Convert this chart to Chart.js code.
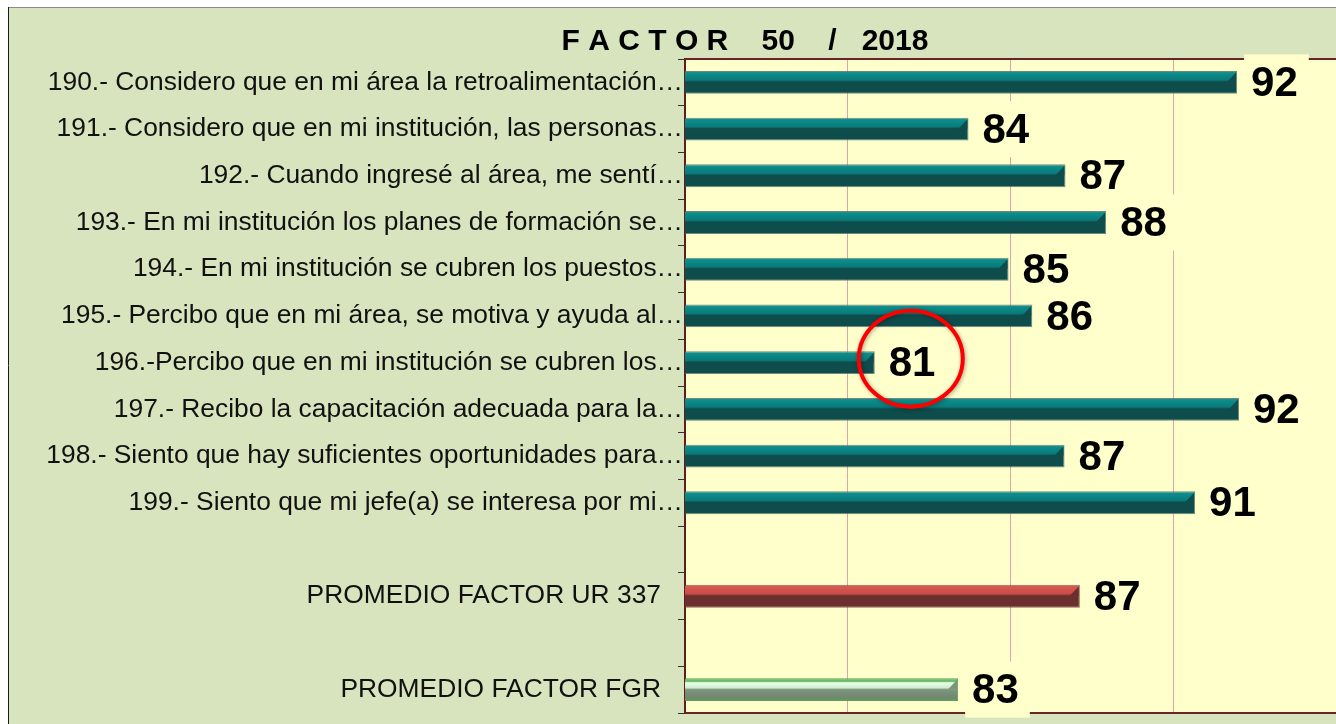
<!DOCTYPE html>
<html>
<head>
<meta charset="utf-8">
<script src="https://cdn.jsdelivr.net/npm/chart.js@4"></script>
<style>
  html, body { margin: 0; padding: 0; background: #fff; overflow: hidden; }
  #wrap { position: relative; width: 1336px; height: 724px; }
</style>
</head>
<body>
<div id="wrap"><canvas id="chart"></canvas></div>
<script>
// chart values
const chartTitle = "F A C T O R    50    /   2018"
const categories = [
  "190.- Considero que en mi área la retroalimentación…",
  "191.- Considero que en mi institución, las personas…",
  "192.- Cuando ingresé al área, me sentí…",
  "193.- En mi institución los planes de formación se…",
  "194.- En mi institución se cubren los puestos…",
  "195.- Percibo que en mi área, se motiva y ayuda al…",
  "196.-Percibo que en mi institución se cubren los…",
  "197.- Recibo la capacitación adecuada para la…",
  "198.- Siento que hay suficientes oportunidades para…",
  "199.- Siento que mi jefe(a) se interesa por mi…",
  "",
  "PROMEDIO FACTOR UR 337   ",
  "",
  "PROMEDIO FACTOR FGR   "
]
const scores = [91.96, 83.71, 86.69, 87.94, 84.94, 85.67, 80.83, 92.02, 86.66, 90.67, null, 87.13, null, 83.39]
// which bar style each row gets
const barKinds = ["q", "q", "q", "q", "q", "q", "q", "q", "q", "q", null, "ur", null, "fgr"]
const highlightIndex = 6   // the circled one
const axisMin = 75
const axisMax = 95

// colour sets for the 3d looking bars
const palette = {
  q:   { edge: "#4f8583", light: "#0b8e8c", mid: "#097a79", dark: "#0f4c4c", border: "rgba(70,110,110,0.8)" },
  ur:  { edge: "#b86060", light: "#d9574f", mid: "#c64c47", dark: "#6b2f2f", border: "rgba(120,60,60,0.8)" },
  fgr: { edge: "#5fb55f", light: "#eaffea", mid: "#bcd8bc", dark: "#70886f", border: "rgba(80,150,80,0.9)" }
}

const barPct = 0.49

function barGradient(c) {
  const kind = barKinds[c.dataIndex]
  const p = palette[kind] || palette.q
  const chart = c.chart
  if (c.dataIndex === undefined || !chart.chartArea) return p.mid
  const yScale = chart.scales.y
  const cy = yScale.getPixelForValue(c.dataIndex)
  const h = (yScale.height / categories.length) * barPct
  const g = chart.ctx.createLinearGradient(0, cy - h / 2, 0, cy + h / 2)
  if (kind === "fgr") {
    g.addColorStop(0, "#5cb35c")
    g.addColorStop(0.14, "#6cc06c")
    g.addColorStop(0.2, "#e6ffe6")
    g.addColorStop(0.42, "#d2ecd2")
    g.addColorStop(0.5, "#7c957c")
    g.addColorStop(0.86, "#6f876e")
    g.addColorStop(1, "#5aa35a")
  } else {
    g.addColorStop(0, p.edge)
    g.addColorStop(0.1, p.light)
    g.addColorStop(0.4, p.mid)
    g.addColorStop(0.48, p.dark)
    g.addColorStop(1, p.dark)
  }
  return g
}

// backgrounds, frame and plot area
const framePlugin = {
  id: "frame",
  beforeDraw(chart) {
    const { ctx, width, height, chartArea: a } = chart
    ctx.save()
    ctx.fillStyle = "#ffffff"
    ctx.fillRect(0, 0, width, height)
    ctx.fillStyle = "#d7e4bd"
    ctx.fillRect(9, 8, width - 9, height - 8)
    ctx.strokeStyle = "#8a8a8a"
    ctx.lineWidth = 1
    ctx.beginPath()
    ctx.moveTo(8, 7.5); ctx.lineTo(width, 7.5)
    ctx.stroke()
    ctx.strokeStyle = "#1c1c1c"
    ctx.beginPath()
    ctx.moveTo(8.5, 7); ctx.lineTo(8.5, height)
    ctx.stroke()
    ctx.fillStyle = "#ffffcc"
    ctx.fillRect(a.left, a.top, a.right - a.left, a.bottom - a.top)
    // title
    ctx.fillStyle = "#000"
    ctx.font = "bold 30px 'Liberation Sans', Arial, sans-serif"
    ctx.textAlign = "center"
    ctx.textBaseline = "alphabetic"
    ctx.fillText(chartTitle, 745, 50)
    ctx.restore()
  },
  beforeDatasetsDraw(chart) {
    const { ctx, chartArea: a } = chart
    ctx.save()
    ctx.strokeStyle = "#6a2424"
    ctx.lineWidth = 2
    ctx.beginPath()
    ctx.moveTo(a.left, a.top); ctx.lineTo(a.right, a.top)
    ctx.moveTo(a.left, a.bottom); ctx.lineTo(a.right, a.bottom)
    ctx.stroke()
    ctx.restore()
  }
}

// bevel at bar ends, value labels, red circle
const labelPlugin = {
  id: "valueLabels",
  afterDatasetsDraw(chart) {
    const { ctx } = chart
    const meta = chart.getDatasetMeta(0)
    ctx.save()
    meta.data.forEach((el, i) => {
      const v = scores[i]
      if (v === null || v === undefined) return
      const p = palette[barKinds[i]]
      const h = el.height
      const top = el.y - h / 2
      // chamfer on the right end of the light band
      ctx.fillStyle = barKinds[i] === "fgr" ? "#7c957c" : p.dark
      ctx.beginPath()
      ctx.moveTo(el.x - 1, top + 1.5)
      ctx.lineTo(el.x - 1, top + h * 0.48)
      ctx.lineTo(el.x - 10, top + h * 0.48)
      ctx.closePath()
      ctx.fill()
    })
    ctx.font = "bold 42px 'Liberation Sans', Arial, sans-serif"
    ctx.textBaseline = "middle"
    ctx.textAlign = "left"
    meta.data.forEach((el, i) => {
      const v = scores[i]
      if (v === null || v === undefined) return
      const txt = String(Math.round(v))
      const tw = ctx.measureText(txt).width
      ctx.fillStyle = "#ffffcc"
      ctx.fillRect(el.x + 7, el.y - 28, tw + 18, 56)
      ctx.fillStyle = "#000"
      ctx.fillText(txt, el.x + 14, el.y + 2)
    })
    // circle round the lowest question
    const hl = meta.data[highlightIndex]
    if (hl) {
      ctx.strokeStyle = "#ff0000"
      ctx.lineWidth = 4
      ctx.shadowColor = "rgba(0,0,0,0.35)"
      ctx.shadowBlur = 4
      ctx.shadowOffsetX = 1
      ctx.shadowOffsetY = 1
      ctx.beginPath()
      ctx.ellipse(hl.x + 36, hl.y - 4, 52, 48, 0, 0, Math.PI * 2)
      ctx.stroke()
    }
    ctx.restore()
  }
}

const chart = new Chart(document.getElementById("chart"), {
  type: "bar",
  data: {
    labels: categories,
    datasets: [{
      data: scores,
      backgroundColor: barGradient,
      borderColor: (c) => (palette[barKinds[c.dataIndex]] || palette.q).border,
      borderWidth: 1,
      borderSkipped: false,
      barPercentage: barPct,
      categoryPercentage: 1
    }]
  },
  options: {
    indexAxis: "y",
    responsive: true,
    maintainAspectRatio: false,
    animation: false,
    layout: { padding: { top: 59, bottom: 11, left: 0, right: 0 } },
    plugins: {
      legend: { display: false },
      title: { display: false },
      tooltip: { enabled: false }
    },
    scales: {
      x: {
        min: axisMin,
        max: axisMax,
        ticks: { display: false, stepSize: 5 },
        grid: {
          color: (c) => (c.tick && (c.tick.value === axisMin || c.tick.value === axisMax)) ? "rgba(0,0,0,0)" : "#e4a3a8",
          lineWidth: 1,
          drawTicks: false
        },
        border: { display: false },
        afterFit(scale) { scale.height = 0 }
      },
      y: {
        offset: true,
        ticks: {
          autoSkip: false,
          color: "#111",
          padding: -5,
          font: { family: "'Liberation Sans', Arial, sans-serif", size: 26.4 }
        },
        grid: {
          offset: true,
          drawOnChartArea: false,
          drawTicks: true,
          tickLength: 7,
          color: "#333"
        },
        border: { display: true, color: "#5c1f1f", width: 2 },
        afterFit(scale) { scale.width = 685 }
      }
    }
  },
  plugins: [framePlugin, labelPlugin]
})
</script>
</body>
</html>
